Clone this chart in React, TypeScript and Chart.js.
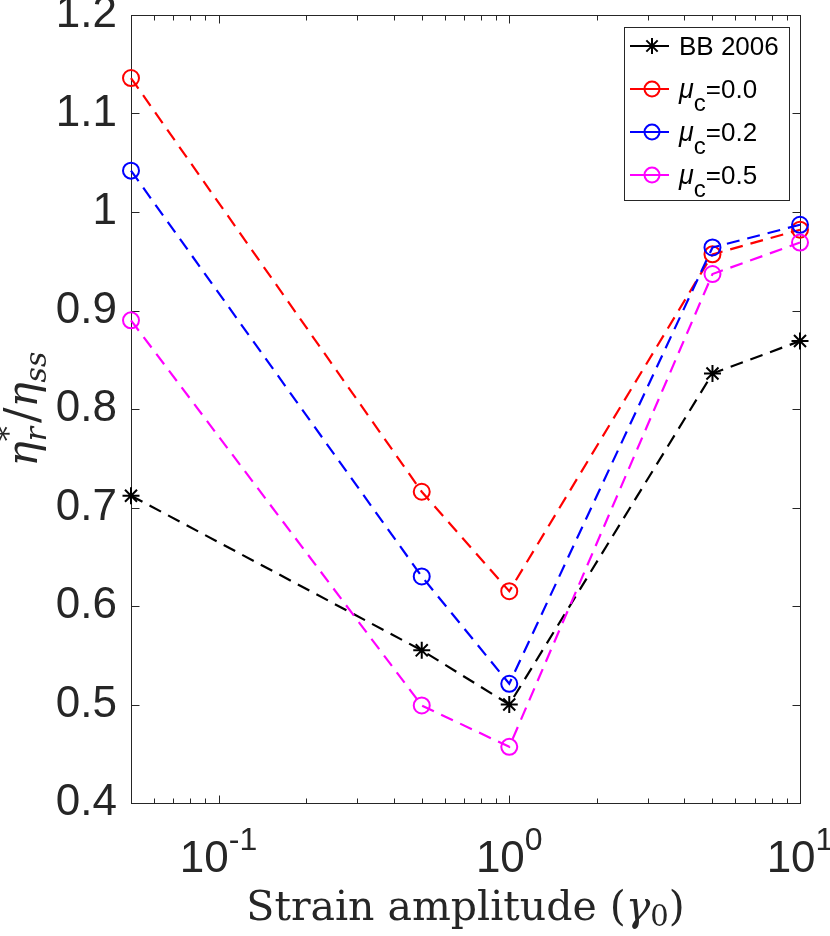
"use client"

import { useEffect, useRef } from "react"
import { Chart, registerables } from "chart.js"

Chart.register(...registerables)

// strain amplitude (gamma_0) of each run
const strainAmplitudes = [0.05, 0.5, 1, 5, 10]

// eta*_r / eta_ss
const bb2006 = [0.712, 0.555, 0.5, 0.836, 0.869]
const muC00 = [1.136, 0.716, 0.615, 0.957, 0.982]
const muC02 = [1.042, 0.63, 0.521, 0.964, 0.987]
const muC05 = [0.89, 0.499, 0.457, 0.937, 0.969]

// "_" marks a one-letter subscript
const seriesLabels = ["BB 2006", "μ_c=0.0", "μ_c=0.2", "μ_c=0.5"]

const yTicks = [0.4, 0.5, 0.6, 0.7, 0.8, 0.9, 1, 1.1, 1.2]
const yTickLabels = ["0.4", "0.5", "0.6", "0.7", "0.8", "0.9", "1", "1.1", "1.2"]
const xMajorTicks = [0.1, 1, 10]
const xTickExponents = ["-1", "0", "1"]
const xMinorTicks = [
  0.05, 0.06, 0.07, 0.08, 0.09, 0.2, 0.3, 0.4, 0.5, 0.6, 0.7, 0.8, 0.9, 2, 3,
  4, 5, 6, 7, 8, 9,
]

const AXIS = "#262626"
const SANS = "'Liberation Sans', Arial, sans-serif"
const SERIF = "'DejaVu Serif', serif"

type Run = { t: string; f: string; dy?: number; skip?: boolean }

// draws text pieces one after another, returns total width
function drawRuns(ctx: CanvasRenderingContext2D, runs: Run[], x: number, y: number, draw = true) {
  let cx = x
  for (const r of runs) {
    ctx.font = r.f
    if (draw) ctx.fillText(r.t, cx, y + (r.dy || 0))
    if (!r.skip) cx += ctx.measureText(r.t).width
  }
  return cx - x
}

function drawMarker(ctx: CanvasRenderingContext2D, style: string, x: number, y: number, r: number, color: string) {
  ctx.strokeStyle = color
  ctx.lineWidth = 2
  ctx.setLineDash([])
  ctx.beginPath()
  if (style === "star") {
    for (let k = 0; k < 4; k++) {
      const a = (k * Math.PI) / 4
      ctx.moveTo(x - r * Math.cos(a), y - r * Math.sin(a))
      ctx.lineTo(x + r * Math.cos(a), y + r * Math.sin(a))
    }
  } else {
    ctx.arc(x, y, r, 0, Math.PI * 2)
  }
  ctx.stroke()
}

const matlabAxes = {
  id: "matlabAxes",
  beforeDatasetsDraw(chart: any) {
    const { ctx, chartArea: a, scales } = chart
    ctx.save()
    ctx.strokeStyle = AXIS
    ctx.lineWidth = 1
    const L = Math.round(a.left) + 0.5
    const R = Math.round(a.right) + 0.5
    const T = Math.round(a.top) + 0.5
    const B = Math.round(a.bottom) + 0.5
    ctx.strokeRect(L, T, R - L, B - T)
    ctx.beginPath()
    for (const v of yTicks) {
      const py = Math.round(scales.y.getPixelForValue(v)) + 0.5
      ctx.moveTo(L, py)
      ctx.lineTo(L + 8, py)
      ctx.moveTo(R, py)
      ctx.lineTo(R - 8, py)
    }
    for (const v of xMajorTicks) {
      const px = Math.round(scales.x.getPixelForValue(v)) + 0.5
      ctx.moveTo(px, B)
      ctx.lineTo(px, B - 8)
      ctx.moveTo(px, T)
      ctx.lineTo(px, T + 8)
    }
    for (const v of xMinorTicks) {
      const px = Math.round(scales.x.getPixelForValue(v)) + 0.5
      ctx.moveTo(px, B)
      ctx.lineTo(px, B - 5)
      ctx.moveTo(px, T)
      ctx.lineTo(px, T + 5)
    }
    ctx.stroke()
    ctx.restore()
  },
  afterDraw(chart: any) {
    const { ctx, chartArea: a, scales } = chart
    ctx.save()
    ctx.fillStyle = AXIS
    ctx.textBaseline = "alphabetic"
    ctx.textAlign = "left"

    // x tick labels 10^n
    xMajorTicks.forEach((v, i) => {
      const px = scales.x.getPixelForValue(v)
      const runs: Run[] = [
        { t: "10", f: `44px ${SANS}` },
        { t: xTickExponents[i], f: `32px ${SANS}`, dy: -22 },
      ]
      const w = drawRuns(ctx, runs, 0, 0, false)
      drawRuns(ctx, runs, px - w / 2, a.bottom + 69)
    })

    // x title
    const xt: Run[] = [
      { t: "Strain amplitude (", f: `41px ${SERIF}` },
      { t: "γ", f: `italic 41px ${SERIF}` },
      { t: "0", f: `29px ${SERIF}`, dy: 6 },
      { t: ")", f: `41px ${SERIF}` },
    ]
    const xw = drawRuns(ctx, xt, 0, 0, false)
    drawRuns(ctx, xt, (a.left + a.right) / 2 - xw / 2, a.bottom + 117)

    // y title
    const yt: Run[] = [
      { t: "η", f: `italic 42px ${SERIF}` },
      { t: "*", f: `30px ${SERIF}`, dy: -19, skip: true },
      { t: "r", f: `italic 30px ${SERIF}`, dy: 9 },
      { t: " ", f: `12px ${SERIF}` },
      { t: "/", f: `46px ${SERIF}` },
      { t: "η", f: `italic 42px ${SERIF}` },
      { t: "ss", f: `italic 30px ${SERIF}`, dy: 9 },
    ]
    const yw = drawRuns(ctx, yt, 0, 0, false)
    ctx.save()
    ctx.translate(37, (a.top + a.bottom) / 2)
    ctx.rotate(-Math.PI / 2)
    drawRuns(ctx, yt, -yw / 2, 0)
    ctx.restore()

    // legend
    ctx.fillStyle = "#ffffff"
    ctx.fillRect(624, 27, 165, 173)
    ctx.strokeStyle = AXIS
    ctx.lineWidth = 1
    ctx.strokeRect(624.5, 27.5, 165, 173)
    chart.data.datasets.forEach((ds: any, i: number) => {
      const y = 46 + i * 43
      ctx.strokeStyle = ds.borderColor
      ctx.lineWidth = 2
      ctx.setLineDash([])
      ctx.beginPath()
      ctx.moveTo(630, y)
      ctx.lineTo(669, y)
      ctx.stroke()
      drawMarker(ctx, ds.pointStyle, 652, y, ds.pointStyle === "star" ? 8 : 7.5, ds.borderColor)
      const label: string = ds.label
      const runs: Run[] = []
      const us = label.indexOf("_")
      if (us >= 0) {
        runs.push({ t: label.slice(0, us), f: `italic 27px ${SANS}` })
        runs.push({ t: label.charAt(us + 1), f: `24px ${SANS}`, dy: 13 })
        runs.push({ t: label.slice(us + 2), f: `26px ${SANS}` })
      } else {
        runs.push({ t: label, f: `26px ${SANS}` })
      }
      ctx.fillStyle = "#000000"
      drawRuns(ctx, runs, 679, y + 9)
    })
    ctx.restore()
  },
}

function series(label: string, values: number[], color: string, style: string, order: number) {
  return {
    label,
    data: strainAmplitudes.map((x, i) => ({ x, y: values[i] })),
    borderColor: color,
    backgroundColor: "rgba(0,0,0,0)",
    borderWidth: 2.2,
    borderDash: [13, 8],
    pointStyle: style,
    pointRadius: style === "star" ? 8.5 : 8,
    pointBorderWidth: 2,
    pointBorderColor: color,
    pointBackgroundColor: "rgba(0,0,0,0)",
    tension: 0,
    clip: false as const,
    order,
  }
}

export default function App() {
  const canvasRef = useRef<HTMLCanvasElement | null>(null)
  const chartRef = useRef<Chart | null>(null)

  useEffect(() => {
    if (!canvasRef.current) return
    if (chartRef.current) chartRef.current.destroy()

    chartRef.current = new Chart(canvasRef.current, {
      type: "line",
      data: {
        datasets: [
          series(seriesLabels[0], bb2006, "#000000", "star", 4),
          series(seriesLabels[1], muC00, "#ff0000", "circle", 3),
          series(seriesLabels[2], muC02, "#0000ff", "circle", 2),
          series(seriesLabels[3], muC05, "#ff00ff", "circle", 1),
        ] as any,
      },
      options: {
        animation: false,
        responsive: true,
        maintainAspectRatio: false,
        events: [],
        layout: { padding: { top: 15, right: 30, left: 0, bottom: 0 } },
        plugins: {
          legend: { display: false },
          tooltip: { enabled: false },
        },
        scales: {
          x: {
            type: "logarithmic",
            min: 0.05,
            max: 10,
            ticks: { display: false },
            grid: { display: false, drawTicks: false },
            border: { display: false },
            afterFit: (s: any) => {
              s.height = 133
              s.paddingLeft = 0
              s.paddingRight = 0
            },
          },
          y: {
            type: "linear",
            min: 0.4,
            max: 1.2,
            afterBuildTicks: (s: any) => {
              s.ticks = yTicks.map((v) => ({ value: v }))
            },
            ticks: {
              callback: (_v: any, i: number) => yTickLabels[i],
              font: { family: SANS, size: 44 },
              color: AXIS,
              padding: 14,
            },
            grid: { display: false, drawTicks: false },
            border: { display: false },
            afterFit: (s: any) => {
              s.width = 131
              s.paddingTop = 0
              s.paddingBottom = 0
            },
          },
        },
      },
      plugins: [matlabAxes],
    })

    return () => {
      if (chartRef.current) {
        chartRef.current.destroy()
        chartRef.current = null
      }
    }
  }, [])

  return (
    <div style={{ position: "absolute", left: 0, top: 0, width: 830, height: 936, background: "#fff" }}>
      <canvas ref={canvasRef}></canvas>
    </div>
  )
}
